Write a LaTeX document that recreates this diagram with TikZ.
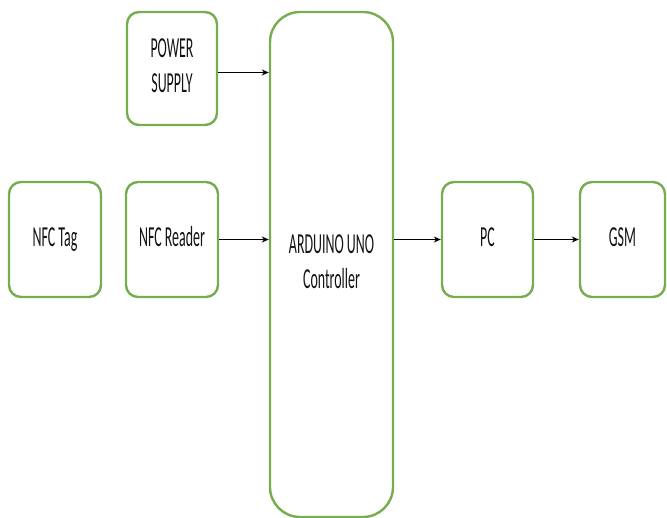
\documentclass[tikz,border=0pt]{standalone}
\usepackage{fontspec}
\setmainfont{Carlito}
\usepackage{graphicx}
\usetikzlibrary{arrows.meta}
\definecolor{boxgreen}{RGB}{118,173,78}
\definecolor{txt}{RGB}{20,20,20}
\newcommand\sqz[1]{\scalebox{0.48}[1]{\fontsize{29}{35}\selectfont\begin{tabular}{@{}c@{}}#1\end{tabular}}}
\tikzset{
  blk/.style={draw=boxgreen, line width=2.4pt, rounded corners=12pt, fill=white,
    inner sep=0pt, text=txt},
  arr/.style={draw=black, line width=1.7pt, -{Stealth[length=7pt,width=6pt]}}
}
\begin{document}
\begin{tikzpicture}[x=1pt,y=-1pt]
\useasboundingbox (0,0) rectangle (667,518);
\node[blk, minimum width=90pt, minimum height=113pt] (ps) at (172,68.5) {\sqz{POWER\\SUPPLY}};
\node[blk, minimum width=92pt, minimum height=115pt] (tag) at (55,239.5) {\sqz{NFC Tag}};
\node[blk, minimum width=92pt, minimum height=115pt] (rdr) at (172,239.5) {\sqz{NFC Reader}};
\node[blk, rounded corners=30pt, minimum width=123pt, minimum height=505pt] (ard) at (331.5,264.5) {\raisebox{-6pt}{\sqz{ARDUINO UNO\\Controller}}};
\node[blk, minimum width=91pt, minimum height=115pt] (pc) at (487.5,239.5) {\sqz{PC}};
\node[blk, minimum width=85pt, minimum height=115pt] (gsm) at (622.5,239.5) {\sqz{GSM}};
\draw[arr] ([yshift=-4pt]ps.east) -- ([yshift=-4pt]ps.east -| ard.west);
\draw[arr] (rdr.east) -- (rdr.east -| ard.west);
\draw[arr] (ard.east |- pc.west) -- (pc.west);
\draw[arr] (pc.east) -- (gsm.west);
\end{tikzpicture}
\end{document}
